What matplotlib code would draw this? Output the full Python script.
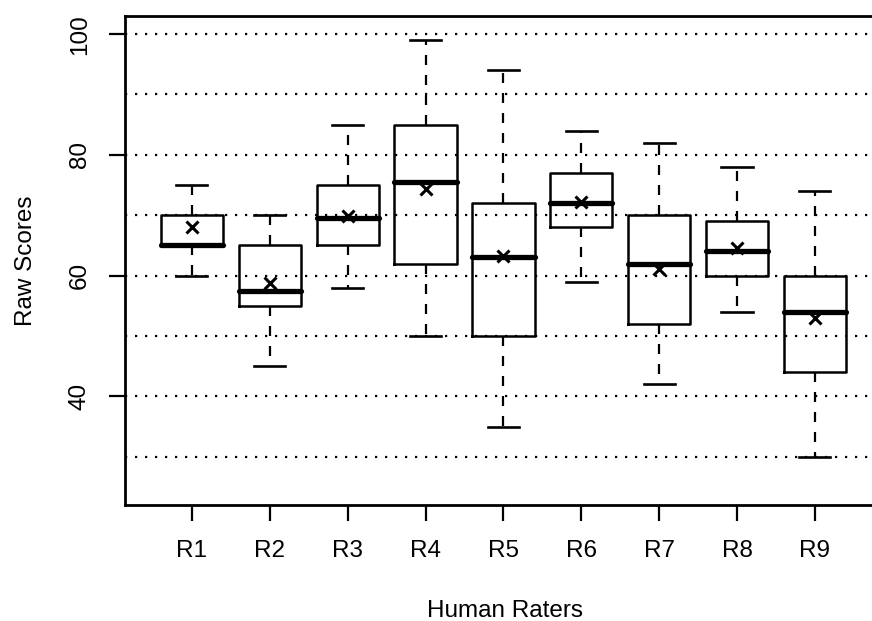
import matplotlib.pyplot as plt

plt.rcParams['font.family'] = ['Liberation Sans', 'DejaVu Sans']

# five-number summaries, plus the mean (the x marks)
raters = ['R1', 'R2', 'R3', 'R4', 'R5', 'R6', 'R7', 'R8', 'R9']
whisker_low = [60, 45, 58, 50, 35, 59, 42, 54, 30]
q1 = [65, 55, 65, 62, 50, 68, 52, 60, 44]
median = [65, 57.5, 69.5, 75.5, 63, 72, 62, 64, 54]
q3 = [70, 65, 75, 85, 72, 77, 70, 69, 60]
whisker_high = [75, 70, 85, 99, 94, 84, 82, 78, 74]
means = [68, 58.8, 69.8, 74.3, 63.2, 72.2, 61.1, 64.6, 53]

grid_levels = [30, 40, 50, 60, 70, 80, 90, 100]
y_ticks = [40, 60, 80, 100]


def main():
    stats = []
    for i, name in enumerate(raters):
        stats.append({'label': name, 'whislo': whisker_low[i], 'q1': q1[i], 'med': median[i],
                      'q3': q3[i], 'whishi': whisker_high[i], 'mean': means[i], 'fliers': []})

    fig = plt.figure(figsize=(8.72, 6.21), dpi=100)
    ax = fig.add_axes([0.1433, 0.1868, 0.868, 0.7874])

    # R-style dotted reference lines every 10 points
    for level in grid_levels:
        ax.axhline(level, color='black', lw=1.6, linestyle=(0, (1, 3.5)), zorder=1)

    ax.bxp(stats, positions=range(1, len(raters) + 1), widths=0.8, capwidths=0.4,
           showmeans=True, showfliers=False,
           boxprops=dict(color='black', lw=1.8),
           medianprops=dict(color='black', lw=3.8, solid_capstyle='round'),
           whiskerprops=dict(color='black', lw=1.6, linestyle=(0, (4.5, 4.5))),
           capprops=dict(color='black', lw=1.9),
           meanprops=dict(marker='x', markeredgecolor='black', markersize=8, markeredgewidth=2.2))

    ax.set_xlim(0.14, 9.86)
    ax.set_ylim(22, 103)
    ax.set_yticks(y_ticks)
    ax.set_yticklabels([str(v) for v in y_ticks], rotation=90, va='center')
    for s in ax.spines.values():
        s.set_linewidth(2)
    ax.tick_params(axis='both', length=11.5, width=1.6, labelsize=17.5)
    ax.tick_params(axis='x', pad=14)
    ax.tick_params(axis='y', pad=13)

    ax.set_xlabel('Human Raters', fontsize=17.5)
    ax.set_ylabel('Raw Scores', fontsize=17.5)
    ax.xaxis.set_label_coords(0.502, -0.194)
    ax.yaxis.set_label_coords(-0.116, 0.5)

    fig.savefig('out.png', dpi=100)


if __name__ == "__main__":
    main()
